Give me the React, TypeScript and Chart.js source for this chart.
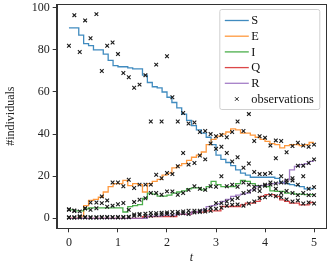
import { useEffect, useRef } from "react";
import { Chart, registerables } from "chart.js";

Chart.register(...registerables);

const FONT = "'Liberation Serif', 'DejaVu Serif', 'Times New Roman', serif";

// model trajectories (step lines)
const lineT = [0,0.1,0.2,0.3,0.4,0.5,0.6,0.7,0.8,0.9,1,1.1,1.2,1.3,1.4,1.5,1.6,1.7,1.8,1.9,2,2.1,2.2,2.3,2.4,2.5,2.6,2.7,2.8,2.9,3,3.1,3.2,3.3,3.4,3.5,3.6,3.7,3.8,3.9,4,4.1,4.2,4.3,4.4,4.5,4.6,4.7,4.8,4.9,5];
const S = [90.5,90.5,90.5,87,83,82,80,80,78,75,72.5,72,72,71.5,71,71,68,64.5,62.5,62,60,57.5,55,52.5,49.5,46.5,44,42,40.5,38.5,35,30,28,26.5,25,23,21.5,20.5,19.5,19.5,19.5,19.5,19.5,19,17,16.5,16,15.5,15,14,14];
const E = [0,0,0,1,6,8.5,9,10,12.5,15,16.5,16.5,18,15.5,16.5,16,12.5,16.5,17.5,18.5,20.5,21.5,24,25,26,27.5,29,30,31.5,35,37.5,39,40,41,42.5,42,40.5,40.5,39.5,38.5,37.5,36.5,35.5,35,33.5,34.5,35,35,34.5,35,36];
const I = [4,4,3.5,3.5,4.5,5,5,5,5,5,5,5,3,5.5,6,6.5,9.5,12,11.5,10.5,10.5,11,12,12.5,13,14,14.5,14.5,13.5,15,17.5,16,15,15,15,16.5,18,17.5,16.5,15.5,15.5,15,13,12.8,12.8,12,12,11.5,11.5,11.2,11.2];
const Q = [0,0,0,0,0,0,0,0,0,0,0,0,0,0,0,0,0.8,0.8,0.8,0.8,0.8,0.8,0.8,1.9,1.9,1.9,2.9,2.9,2.9,3.5,3.5,3.5,5.6,5.6,5.6,5.6,6.4,7.2,7.2,8,10.4,11.2,11.2,10.4,8.8,8,7.2,7.2,6.4,6.4,7.5];
const R = [0,0,0,0,0,0,0,0,0,0,0,0,0,0,0,0,0,1,1,1,1.5,1.5,1.5,2,2,2,3,3,4,5.5,6,7,8,9,10.4,11,11.5,12,13.5,15,15.5,16,16.5,16.7,16.7,18.3,23,24.7,25.5,26,27];

// observations
const obsT = [0,0.11,0.22,0.33,0.44,0.56,0.67,0.78,0.89,1,1.11,1.22,1.33,1.44,1.56,1.67,1.78,1.89,2,2.11,2.22,2.33,2.44,2.56,2.67,2.78,2.89,3,3.11,3.22,3.33,3.44,3.56,3.67,3.78,3.89,4,4.11,4.22,4.33,4.44,4.56,4.67,4.78,4.89,5];
const obsS = [82,96.5,79,94,85.5,97,70,82,83.5,78,69,67,62,63.5,68,46,73,46,77,57.5,46,50,45,45.5,41,41.5,40,33,34,31,27,29,24,26,22,21,21,21.5,28.5,20,17,18,16,20,14,14.8];
const obsE = [4,3.5,1,4.8,7.5,7.5,7.2,8.5,17,17,15.2,18.3,14.4,16,16,16,20.7,19,21.5,21,24.7,31,25.5,26.3,29.8,28,35.6,39,39.6,38.5,41,46,41.5,49.5,36.7,39,38.3,34.6,37,36.7,31.4,34.3,35.9,34.6,34,35];
const obsI = [4.3,3.7,3.3,4.7,4,4.8,10.4,5.5,6,6.7,7.3,4,7.7,8.8,9.5,12,12,11.2,12.8,12.8,11.2,12,13.5,15.2,14,13.5,15.2,15,20,15.2,16,15,17,16,15,13,15.5,16,14,12,13,12,11,12,11,11];
const obsQ = [0.5,0.3,0.6,0.4,0.5,0.3,0.6,0.4,0.5,0.6,0.4,0.7,1.2,1.5,1,1.2,1.5,1.8,2,1.6,2.2,2.4,2,2.8,3,3.2,3.6,4.5,5,6,6.4,6.6,6,7,8,9.6,10,11,10.5,10,9,8,8.5,7,7.5,7];
const obsR = [0.3,0.5,0.4,0.6,0.3,0.5,0.4,0.6,0.5,0.4,0.6,0.5,1.8,2,2.2,2.5,2.4,2.6,2.8,3,3,3.2,3.6,3.6,3.6,4,5,7.2,7.2,8,8.8,9.6,12,12.8,13.5,15,16,17,16.5,17,18,19,25,25,26.3,28];

const xTicks = [0, 1, 2, 3, 4, 5];
const yTicks = [0, 20, 40, 60, 80, 100];

const seriesNames = ["S", "E", "I", "Q", "R"];
const seriesColors = [
  "rgba(31,119,180,0.85)",
  "rgba(255,127,14,0.8)",
  "rgba(44,160,44,0.85)",
  "rgba(214,39,40,0.85)",
  "rgba(148,103,189,0.85)",
];

export default function App() {
  const ref = useRef<HTMLCanvasElement>(null);

  useEffect(() => {
    const series = [S, E, I, Q, R];
    const lineSets = series.map((vals, k) => ({
      type: "line" as const,
      label: seriesNames[k],
      data: lineT.map((t, i) => ({ x: t, y: vals[i] })),
      borderColor: seriesColors[k],
      backgroundColor: seriesColors[k],
      borderWidth: 1.3,
      pointRadius: 0,
      stepped: "after" as const,
      showLine: true,
      fill: false,
      order: 5 - k,
    }));
    const obsData: { x: number; y: number }[] = [];
    [obsS, obsE, obsI, obsQ, obsR].forEach((arr) => {
      arr.forEach((v, i) => obsData.push({ x: obsT[i], y: v }));
    });
    const obsSet = {
      type: "scatter" as const,
      label: "observations",
      data: obsData,
      pointStyle: "crossRot" as const,
      pointRadius: 2.6,
      pointBorderWidth: 1.1,
      borderColor: "#1a1a1a",
      backgroundColor: "#1a1a1a",
      showLine: false,
      order: 0,
    };

    const framePlugin = {
      id: "frame",
      afterDatasetsDraw(chart: any) {
        const { ctx, chartArea: a } = chart;
        ctx.save();
        ctx.strokeStyle = "#333";
        ctx.lineWidth = 1;
        ctx.strokeRect(Math.round(a.left) + 0.5, Math.round(a.top) + 0.5, Math.round(a.right - a.left) - 1, Math.round(a.bottom - a.top));
        ctx.restore();
      },
    };

    const legendPlugin = {
      id: "customLegend",
      afterDraw(chart: any) {
        const { ctx, chartArea: a } = chart;
        const bx = a.right - 106.5;
        const by = a.top + 5.5;
        const bw = 100;
        const bh = 100;
        ctx.save();
        ctx.fillStyle = "rgba(255,255,255,0.85)";
        ctx.strokeStyle = "#d0d0d0";
        ctx.lineWidth = 1;
        ctx.beginPath();
        ctx.roundRect(bx, by, bw, bh, 2);
        ctx.fill();
        ctx.stroke();
        const labels = [...seriesNames, "observations"];
        ctx.font = `12.4px ${FONT}`;
        ctx.textBaseline = "middle";
        ctx.fillStyle = "#111";
        labels.forEach((lab, i) => {
          const y = by + 11 + i * 15.7;
          if (i < 5) {
            ctx.strokeStyle = seriesColors[i];
            ctx.lineWidth = 1.3;
            ctx.beginPath();
            ctx.moveTo(bx + 5, y);
            ctx.lineTo(bx + 29, y);
            ctx.stroke();
          } else {
            ctx.strokeStyle = "#222";
            ctx.lineWidth = 1;
            const cx = bx + 17;
            const r = 1.8;
            ctx.beginPath();
            ctx.moveTo(cx - r, y - r);
            ctx.lineTo(cx + r, y + r);
            ctx.moveTo(cx - r, y + r);
            ctx.lineTo(cx + r, y - r);
            ctx.stroke();
          }
          ctx.fillStyle = "#111";
          ctx.fillText(lab, bx + 31.5, y + 0.5);
        });
        ctx.restore();
      },
    };

    const tickFont = { family: FONT, size: 12 };
    const zeroPad = (s: any) => {
      s.paddingLeft = 0;
      s.paddingRight = 0;
      s.paddingTop = 0;
      s.paddingBottom = 0;
    };

    const chart = new Chart(ref.current!, {
      type: "scatter",
      data: { datasets: [...lineSets, obsSet] as any },
      options: {
        responsive: false,
        animation: false,
        devicePixelRatio: 1,
        layout: { autoPadding: false, padding: { top: 4, right: 0.7, left: 0, bottom: 0 } },
        plugins: { legend: { display: false }, tooltip: { enabled: false } },
        scales: {
          x: {
            type: "linear",
            min: -0.25,
            max: 5.25,
            afterBuildTicks: (s: any) => {
              s.ticks = xTicks.map((v) => ({ value: v }));
            },
            afterFit: (s: any) => {
              s.height = 36.7;
              zeroPad(s);
            },
            ticks: { font: tickFont, color: "#222", padding: 3, maxRotation: 0, callback: (v: any) => String(v) },
            grid: { drawOnChartArea: false, drawTicks: true, tickLength: 4, color: "#333" },
            border: { display: true, color: "#333", width: 1 },
            title: {
              display: true,
              text: "t",
              color: "#222",
              font: { family: FONT, size: 12, style: "italic" },
              padding: { top: 0, bottom: 0 },
            },
          },
          y: {
            type: "linear",
            min: -4.75,
            max: 101.8,
            afterBuildTicks: (s: any) => {
              s.ticks = yTicks.map((v) => ({ value: v }));
            },
            afterFit: (s: any) => {
              s.width = 56.7;
              zeroPad(s);
            },
            ticks: { font: tickFont, color: "#222", padding: 3, callback: (v: any) => String(v) },
            grid: { drawOnChartArea: false, drawTicks: true, tickLength: 4, color: "#333" },
            border: { display: true, color: "#333", width: 1 },
            title: {
              display: true,
              text: "#individuals",
              color: "#222",
              font: { family: FONT, size: 12 },
              padding: { top: 4, bottom: 0 },
            },
          },
        },
      },
      plugins: [framePlugin, legendPlugin],
    });
    return () => chart.destroy();
  }, []);

  return (
    <div style={{ position: "fixed", left: 0, top: 0, width: 327, height: 265, background: "#fff" }}>
      <canvas ref={ref} width={327} height={265} style={{ display: "block", width: 327, height: 265 }} />
    </div>
  );
}
